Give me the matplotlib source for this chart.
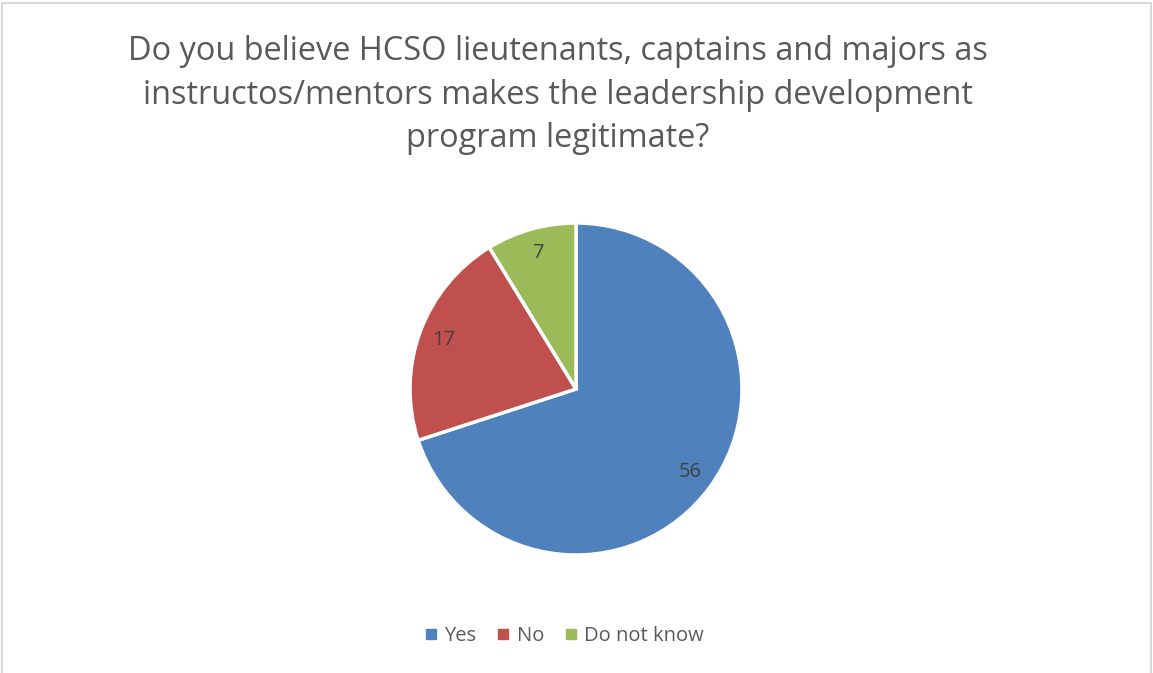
import matplotlib
matplotlib.use("Agg")
import matplotlib.pyplot as plt
from matplotlib.patches import Rectangle
from matplotlib.lines import Line2D

categories = ["Yes", "No", "Do not know"]
counts = [56, 17, 7]
colors = ["#4F81BD", "#C0504D", "#9BBB59"]
title = ("Do you believe HCSO lieutenants, captains and majors as\n"
         "instructos/mentors makes the leadership development\n"
         "program legitimate?")

W, H = 1153, 673
fig = plt.figure(figsize=(W / 100, H / 100), dpi=100)
fig.patch.set_facecolor("white")

# light frame around the chart area (bottom edge runs off the canvas)
fig.patches.append(Rectangle((2 / W, -0.01), (W - 4) / W, 1.01 - 3 / H,
                             transform=fig.transFigure, fill=False,
                             edgecolor="#D9D9D9", linewidth=1.5))

text_color = "#595959"
fig.text(558 / W, 1 - 95 / H, title, ha="center", va="center",
         fontsize=23.4, color=text_color, family="Open Sans",
         linespacing=1.42)

cx, cy, r = 576, 389, 166
ax = fig.add_axes([(cx - r) / W, 1 - (cy + r) / H, 2 * r / W, 2 * r / H])
total = sum(counts)
wedges, _, autotexts = ax.pie(
    counts, colors=colors, startangle=90, counterclock=False,
    autopct=lambda p: f"{round(p * total / 100)}", pctdistance=0.85,
    wedgeprops=dict(edgecolor="white", linewidth=2.5),
    textprops=dict(color="#404040", fontsize=14.5, family="Open Sans"))
ax.set_xlim(-1, 1)
ax.set_ylim(-1, 1)
ax.set_aspect("equal")
ax.axis("off")

handles = [Line2D([], [], marker="s", linestyle="none", markersize=7,
                  markerfacecolor=c, markeredgecolor=c) for c in colors]
fig.legend(handles, categories, loc="center", bbox_to_anchor=(564 / W, 1 - 636 / H),
           ncol=3, frameon=False, handlelength=0.7, handletextpad=0.3,
           columnspacing=1.0, prop=dict(family="Open Sans", size=14.5),
           labelcolor=text_color)

fig.savefig("out.png", dpi=100, facecolor="white")
